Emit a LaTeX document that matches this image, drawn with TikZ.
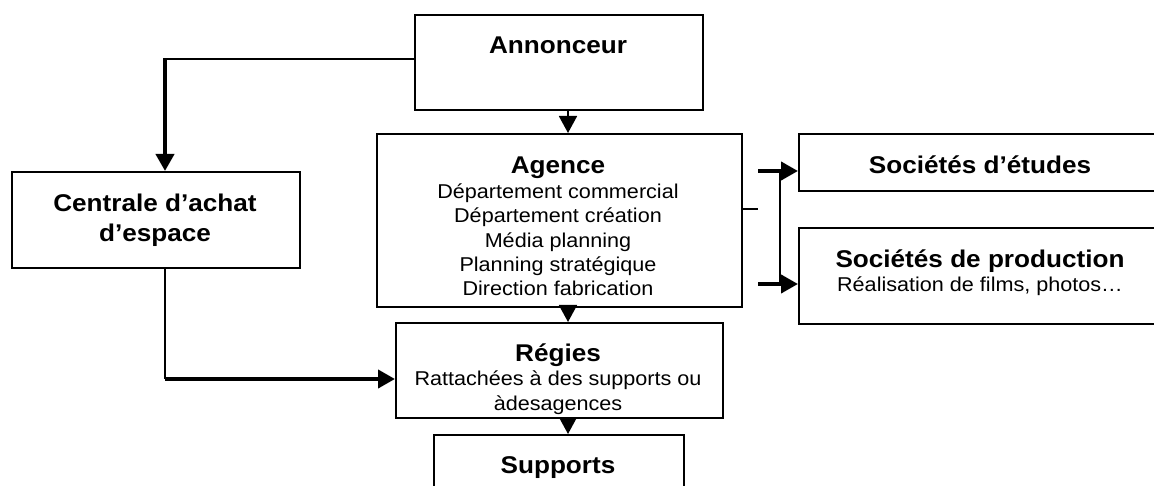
\documentclass[tikz,border=0pt]{standalone}
\usepackage{fontspec}
\setmainfont{Liberation Sans}[FakeStretch=1.08]
\usetikzlibrary{arrows.meta}
\newcommand\ttlfont{\fontsize{24.2}{30.6}\selectfont\bfseries}
\newcommand\bdyfont{\fontsize{20}{24.45}\selectfont}
\begin{document}
\begin{tikzpicture}[x=1pt,y=-1pt,
  box/.style={draw=black, line width=2pt, rectangle, inner sep=0pt, anchor=north west, fill=white},
  % multi-line labels sit on the baseline of their last line
  lbl/.style={anchor=base, align=center, inner sep=0pt, font=\bdyfont},
  ttl/.style={lbl, font=\ttlfont},
  thinline/.style={line width=1.8pt},
  thickline/.style={line width=4pt},
  tip/.style={-{Triangle[width=18pt,length=17pt]}},
]
\clip (0,0) rectangle (1154,486);
\fill[white] (0,0) rectangle (1154,486);

% boxes
\node[box, minimum width=288pt, minimum height=95pt]  (ann)      at (414,14)  {};
\node[box, minimum width=288pt, minimum height=96pt]  (cent)     at (11,171)  {};
\node[box, minimum width=365pt, minimum height=173pt] (agence)   at (376,133) {};
\node[box, minimum width=362pt, minimum height=57pt]  (etudes)   at (798,133) {};
\node[box, minimum width=362pt, minimum height=96pt]  (prod)     at (798,227) {};
\node[box, minimum width=327pt, minimum height=95pt]  (regies)   at (395,322) {};
\node[box, minimum width=250pt, minimum height=70pt]  (supports) at (433,434) {};

% texts
\node[ttl] (ann-t)      at (558,54)    {Annonceur};
\node[ttl] (cent-t)     at (155,241.7) {Centrale d’achat\\d’espace};
\node[lbl] (agence-t)   at (558,296)   {{\ttlfont Agence}\\Département commercial\\Département création\\Média planning\\Planning stratégique\\Direction fabrication};
\node[ttl] (etudes-t)   at (980,173.3) {Sociétés d’études};
\node[lbl] (prod-t)     at (980,291.7) {{\ttlfont Sociétés de production}\\Réalisation de films, photos…};
\node[lbl] (regies-t)   at (558,410)   {{\ttlfont Régies}\\Rattachées à des supports ou\\àdesagences};
\node[ttl] (supports-t) at (558,473)   {Supports};

% guide coordinates for the connector rails
\coordinate (spine) at (568,0);
\coordinate (rail)  at (165,0);
\coordinate (stub)  at (758,0);
\coordinate (brace) at (780,0);

% main vertical chain
\draw[thinline, tip] (spine |- ann.south)    -- (spine |- agence.north);
\draw[thinline, tip] (spine |- agence.south) -- (spine |- regies.north);
\draw[thinline, tip] (spine |- regies.south) -- (spine |- supports.north);

% annonceur -> centrale
\coordinate (ann-out) at ([yshift=3.5pt]ann.west);
\draw[thinline] (ann-out) -- (rail |- ann-out);
\draw[thickline, tip] ([yshift=0.9pt]rail |- ann-out) -- (rail |- cent.north);

% centrale -> regies
\coordinate (reg-in) at ([yshift=-8.5pt]regies.west);
\draw[thinline] (rail |- cent.south) -- (rail |- reg-in);
\draw[thickline, tip] (rail |- reg-in) -- (reg-in);

% agence -> societes
\coordinate (ag-out) at ([yshift=11.5pt]agence.east);
\draw[thinline] (ag-out) -- (ag-out -| stub);
\coordinate (et-in) at ([yshift=-8.5pt]etudes.west);
\coordinate (pr-in) at ([yshift=-8pt]prod.west);
\draw[thinline] (brace |- et-in) -- (brace |- pr-in);
\draw[thickline, tip] (stub |- et-in) -- (et-in);
\draw[thickline, tip] (stub |- pr-in) -- (pr-in);
\end{tikzpicture}
\end{document}
